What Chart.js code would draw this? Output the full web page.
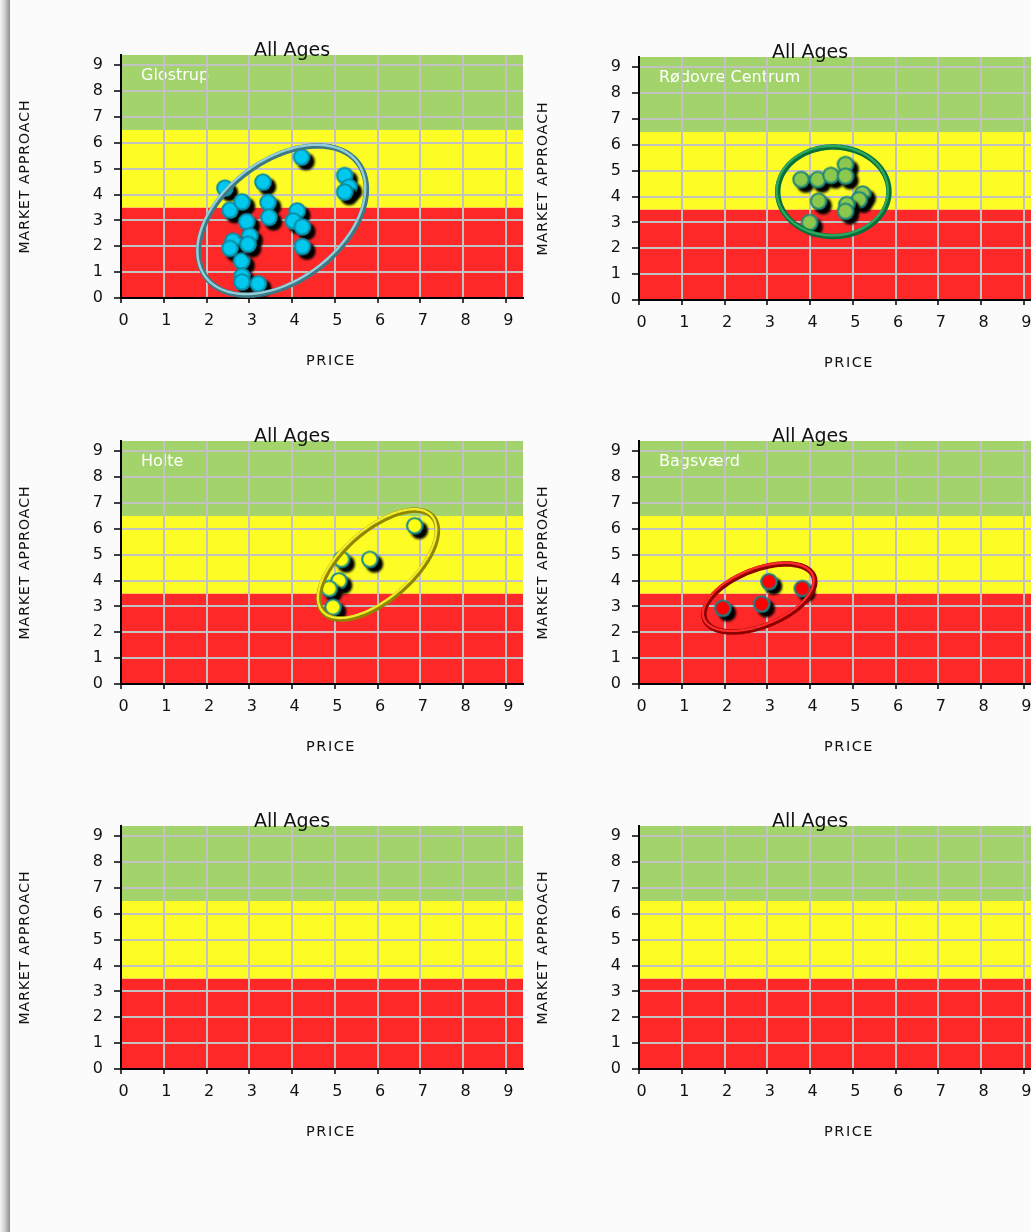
<!DOCTYPE html>
<html>
<head>
<meta charset="utf-8">
<script src="https://cdn.jsdelivr.net/npm/chart.js@4.4.0/dist/chart.umd.min.js"></script>
<style>
  html, body { margin: 0; padding: 0; width: 1031px; height: 1232px; overflow: hidden; background: #fbfbfb; }
  #edge { position: absolute; left: 0; top: 0; width: 10px; height: 1232px;
          background: linear-gradient(to right, #f4f4f4, #d2d2d2 45%, #8e8e8e); }
  canvas { position: absolute; }
</style>
</head>
<body>
<div id="edge"></div>
<canvas id="c0" width="525" height="350" style="left:10px;top:30px"></canvas>
<canvas id="c1" width="525" height="350" style="left:528px;top:32px"></canvas>
<canvas id="c2" width="525" height="350" style="left:10px;top:416px"></canvas>
<canvas id="c3" width="525" height="350" style="left:528px;top:416px"></canvas>
<canvas id="c4" width="525" height="350" style="left:10px;top:801px"></canvas>
<canvas id="c5" width="525" height="350" style="left:528px;top:801px"></canvas>
<script>
// ---- data -------------------------------------------------------------
const AXIS_MAX = 9.4;
const PANEL_TITLE = 'All Ages';
const X_TITLE = 'PRICE';
const Y_TITLE = 'MARKET APPROACH';

// score bands on the market-approach axis
const ZONE_FROM  = [0, 3.5, 6.5];
const ZONE_TO    = [3.5, 6.5, AXIS_MAX];
const ZONE_COLOR = ['#fe2828', '#fdfc24', '#a3d46c'];

const STORES = ['Glostrup', 'Rødovre Centrum', 'Holte', 'Bagsværd', '', ''];

const glostrupPrice    = [2.43, 2.55, 2.83, 3.32, 3.44, 3.46, 2.94, 3.01, 2.62, 2.55, 2.82, 2.83, 2.83, 3.21, 4.22, 4.12, 4.03, 4.24, 4.24, 5.23, 5.33, 5.23, 2.97];
const glostrupApproach = [4.25, 3.40, 3.72, 4.48, 3.70, 3.12, 2.95, 2.40, 2.20, 1.92, 1.43, 0.84, 0.62, 0.55, 5.45, 3.37, 2.98, 2.75, 1.99, 4.74, 4.29, 4.10, 2.08];

const rodovrePrice    = [3.79, 4.18, 4.49, 4.83, 4.83, 4.20, 3.99, 5.23, 5.15, 4.86, 4.83];
const rodovreApproach = [4.66, 4.66, 4.82, 5.24, 4.79, 3.82, 3.00, 4.10, 3.88, 3.69, 3.43];

const holtePrice    = [6.87, 5.16, 5.82, 5.10, 4.87, 4.96];
const holteApproach = [6.12, 4.82, 4.82, 3.99, 3.69, 2.97];

const bagsvaerdPrice    = [1.96, 3.04, 2.87, 3.82];
const bagsvaerdApproach = [2.93, 3.96, 3.09, 3.69];

// cluster rings: centre (price, approach), semi-axes in axis units, tilt in degrees
const glostrupRing  = [3.76, 3.02, 3.06, 1.68, 66.6];
const rodovreRing   = [4.53, 4.21, 1.30, 1.73, 0];
const holteRing     = [6.00, 4.64, 2.32, 0.98, 62.3];
const bagsvaerdRing = [2.80, 3.35, 1.59, 0.94, 45.9];

// ---- styling ----------------------------------------------------------
const FONT = '"DejaVu Sans", Verdana, sans-serif';
Chart.defaults.font.family = FONT;

function sphere(fill, rim) {
  const c = document.createElement('canvas');
  c.width = c.height = 34;
  const g = c.getContext('2d');
  const m = 17, r = 8.8;
  g.filter = 'blur(0.8px)';
  g.fillStyle = '#000';
  g.beginPath(); g.arc(m + 4.5, m + 4.5, r, 0, Math.PI * 2); g.fill();
  g.filter = 'none';
  g.fillStyle = rim;
  g.beginPath(); g.arc(m, m, r, 0, Math.PI * 2); g.fill();
  const grad = g.createRadialGradient(m - 1.5, m - 1.5, 1, m, m, r - 1.6);
  grad.addColorStop(0, fill);
  grad.addColorStop(0.8, fill);
  grad.addColorStop(1, rim);
  g.fillStyle = grad;
  g.beginPath(); g.arc(m, m, r - 1.6, 0, Math.PI * 2); g.fill();
  return c;
}

const panels = [
  { price: glostrupPrice, approach: glostrupApproach, ring: glostrupRing,
    marker: sphere('#00c8ee', '#0b8ea6'), ringDark: '#3d7884', ringLight: '#94cfda' },
  { price: rodovrePrice, approach: rodovreApproach, ring: rodovreRing,
    marker: sphere('#8cc84e', '#1e8778'), ringDark: '#07703a', ringLight: '#2ea85e' },
  { price: holtePrice, approach: holteApproach, ring: holteRing,
    marker: sphere('#ffff14', '#168a8a'), ringDark: '#8f8600', ringLight: '#f2ec2c' },
  { price: bagsvaerdPrice, approach: bagsvaerdApproach, ring: bagsvaerdRing,
    marker: sphere('#ff0000', '#1b7f85'), ringDark: '#8c0000', ringLight: '#ff2a2a' },
  { price: [], approach: [], ring: null },
  { price: [], approach: [], ring: null }
];

// ---- plugin: score bands, store name, cluster ring, titles --------------
function ringPath(ctx, xs, ys, ring, dx, dy) {
  const [cx, cy, rx, ry, deg] = ring;
  const phi = deg * Math.PI / 180;
  ctx.beginPath();
  for (let i = 0; i <= 160; i++) {
    const t = i / 160 * Math.PI * 2;
    const u = rx * Math.cos(t), v = ry * Math.sin(t);
    const px = xs.getPixelForValue(cx + u * Math.cos(phi) - v * Math.sin(phi)) + dx;
    const py = ys.getPixelForValue(cy + u * Math.sin(phi) + v * Math.cos(phi)) + dy;
    if (i === 0) ctx.moveTo(px, py); else ctx.lineTo(px, py);
  }
  ctx.closePath();
}

const decor = {
  id: 'decor',
  beforeDraw(chart, args, o) {
    const { ctx, chartArea: a, scales: { y } } = chart;
    ctx.save();
    ctx.letterSpacing = '0px';
    for (let i = 0; i < ZONE_FROM.length; i++) {
      const top = y.getPixelForValue(ZONE_TO[i]);
      const bot = y.getPixelForValue(ZONE_FROM[i]);
      ctx.fillStyle = ZONE_COLOR[i];
      ctx.fillRect(a.left, top, a.right - a.left, bot - top);
    }
    if (o.store) {
      ctx.font = '16px ' + FONT;
      ctx.fillStyle = '#ffffff';
      ctx.textAlign = 'left';
      ctx.textBaseline = 'middle';
      ctx.fillText(o.store, a.left + 20, a.top + 21);
    }
    ctx.restore();
    // the vertical axis title is drawn with a little tracking
    ctx.letterSpacing = '1px';
  },
  beforeDatasetsDraw(chart) {
    chart.ctx.letterSpacing = '0px';
  },
  afterDatasetsDraw(chart, args, o) {
    if (!o.ring) return;
    const { ctx, scales: { x, y } } = chart;
    ctx.save();
    ctx.lineJoin = 'round';
    ringPath(ctx, x, y, o.ring, 0.6, 0.6);
    ctx.lineWidth = 5.5; ctx.strokeStyle = o.ringDark; ctx.stroke();
    ringPath(ctx, x, y, o.ring, -0.5, -0.5);
    ctx.lineWidth = 2.4; ctx.strokeStyle = o.ringLight; ctx.stroke();
    ctx.restore();
  },
  afterDraw(chart, args, o) {
    const { ctx, chartArea: a } = chart;
    ctx.save();
    ctx.letterSpacing = '0px';
    ctx.font = '19px ' + FONT;
    ctx.fillStyle = '#111';
    ctx.textAlign = 'center';
    ctx.textBaseline = 'alphabetic';
    ctx.fillText(o.title, a.left + 171, a.top + 0.5);
    // horizontal axis title
    ctx.letterSpacing = '1.5px';
    ctx.font = '14.5px ' + FONT;
    ctx.textBaseline = 'middle';
    ctx.fillText(o.xTitle, a.left + 210, a.bottom + 63);
    ctx.restore();
  }
};

function build(id, p, store) {
  const pts = p.price.map((v, i) => ({ x: v, y: p.approach[i] }));
  return new Chart(document.getElementById(id), {
    type: 'scatter',
    data: {
      datasets: pts.length ? [{ data: pts, pointStyle: p.marker, pointRadius: 9 }] : []
    },
    options: {
      responsive: false,
      animation: false,
      devicePixelRatio: 1,
      events: [],
      layout: { padding: { left: 0, top: 25, right: 12, bottom: 0 } },
      plugins: {
        legend: { display: false },
        tooltip: { enabled: false },
        decor: { store: store, ring: p.ring, ringDark: p.ringDark, ringLight: p.ringLight,
                 title: PANEL_TITLE, xTitle: X_TITLE }
      },
      scales: {
        x: {
          type: 'linear', min: 0, max: AXIS_MAX,
          afterFit: s => { s.height = 82; },
          ticks: { stepSize: 1, includeBounds: false, autoSkip: false, maxRotation: 0,
                   color: '#111', font: { size: 16 }, padding: 8, labelOffset: 3 },
          grid: { color: '#c2c2c2', lineWidth: 2, tickColor: '#000', tickLength: 5, tickWidth: 1.5 },
          border: { color: '#000', width: 2 },
          title: { display: false, text: X_TITLE }
        },
        y: {
          type: 'linear', min: 0, max: AXIS_MAX,
          afterFit: s => { s.width = 111; },
          ticks: { stepSize: 1, includeBounds: false, autoSkip: false,
                   color: '#111', font: { size: 16 }, padding: 10 },
          grid: { color: '#c2c2c2', lineWidth: 2, tickColor: '#000', tickLength: 7, tickWidth: 1.5 },
          border: { color: '#000', width: 2 },
          title: { display: true, text: Y_TITLE, color: '#111', font: { size: 14 },
                   padding: { top: 7, bottom: 0 } }
        }
      }
    },
    plugins: [decor]
  });
}

panels.forEach((p, i) => build('c' + i, p, STORES[i]));
</script>
</body>
</html>
